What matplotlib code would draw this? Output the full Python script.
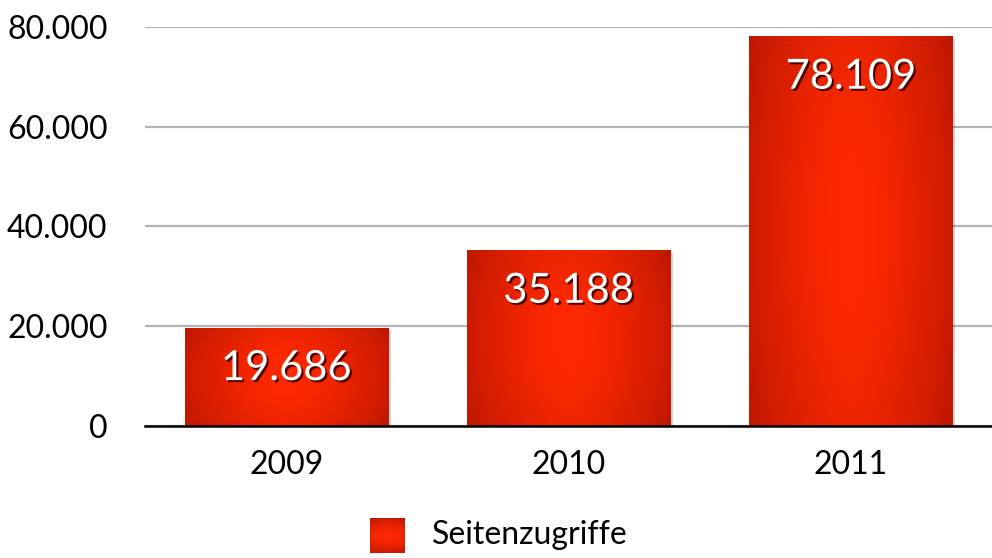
import numpy as np
import matplotlib
matplotlib.use('Agg')
import matplotlib.pyplot as plt
import matplotlib.patheffects as pe

plt.rcParams['font.family'] = ['Lato', 'DejaVu Sans']

# Daten
years = ['2009', '2010', '2011']
hits = [19686, 35188, 78109]
labels = ['19.686', '35.188', '78.109']
yticks = [0, 20000, 40000, 60000, 80000]
ytick_labels = ['0', '20.000', '40.000', '60.000', '80.000']
series_name = 'Seitenzugriffe'

fig = plt.figure(figsize=(9.92, 5.58), dpi=100)
ax = fig.add_axes([0.1462, 0.2366, 0.8538, 0.715])

x = np.arange(len(years))
bars = ax.bar(x, hits, width=0.72, color='#e82000', zorder=2,
              path_effects=[pe.SimplePatchShadow(offset=(2, -1.5), shadow_rgbFace='#000000', alpha=0.18), pe.Normal()])

# horizontaler Verlauf: Mitte hell, Ränder dunkler
t = np.linspace(-1, 1, 200)
w = 1 - np.abs(t) ** 1.6
c_edge = np.array([0.80, 0.10, 0.0])
c_mid = np.array([1.0, 0.16, 0.0])
grad = c_edge[None, :] + (c_mid - c_edge)[None, :] * w[:, None]
vt = np.linspace(0, 1, 50)
shade = 0.93 + 0.07 * np.sin(vt * np.pi)
img = grad[None, :, :] * shade[:, None, None]
for b in bars:
    x0, y0 = b.get_x(), b.get_y()
    bw, bh = b.get_width(), b.get_height()
    im = ax.imshow(img, extent=[x0, x0 + bw, y0, y0 + bh], aspect='auto', origin='lower', zorder=3)
    im.set_clip_path(b)

for xi, v, lab in zip(x, hits, labels):
    ax.annotate(lab, (xi, v), xytext=(0, -29), textcoords='offset points', ha='center', va='center',
                fontsize=30, color='white', zorder=5,
                path_effects=[pe.SimplePatchShadow(offset=(1.5, -1.5), shadow_rgbFace='#400000', alpha=0.9), pe.Normal()])

ax.set_xlim(-0.5, 2.5)
ax.set_ylim(0, 80000)
ax.set_yticks(yticks)
ax.set_yticklabels(ytick_labels)
ax.set_xticks(x)
ax.set_xticklabels(years)
ax.tick_params(length=0, labelsize=23)
ax.tick_params(axis='y', pad=27)
ax.tick_params(axis='x', pad=17)
ax.yaxis.grid(True, color='#b3b3b3', linewidth=1.6, zorder=0)
ax.set_axisbelow(True)
for s in ['top', 'right', 'left']:
    ax.spines[s].set_visible(False)
ax.spines['bottom'].set_linewidth(1.8)
ax.spines['bottom'].set_zorder(4)

# Legende
lx = fig.add_axes([370 / 992, 5 / 558, 35 / 992, 35 / 558])
lx.imshow(img.transpose(1, 0, 2), aspect='auto', extent=[0, 1, 0, 1])
lx.axis('off')
fig.text(432 / 992, 23 / 558, series_name, fontsize=23, va='center', ha='left')

fig.savefig('out.png', dpi=100)
